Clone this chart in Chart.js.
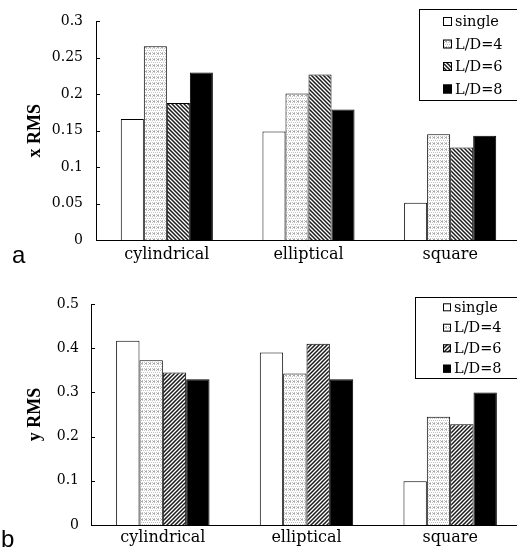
<!DOCTYPE html>
<html><head><meta charset="utf-8">
<script src="https://cdn.jsdelivr.net/npm/chart.js@4.4.0/dist/chart.umd.min.js"></script>
<style>
html,body{margin:0;padding:0;background:#fff;overflow:hidden;width:517px;height:559px;}
#wrap{position:relative;width:517px;height:559px;overflow:hidden;}
canvas{position:absolute;left:0;}
#ca{top:0}
#cb{top:280px}
.lab{position:absolute;font-family:"Liberation Sans",Arial,sans-serif;font-size:24px;line-height:normal;color:#000;}
</style></head><body>
<div id="wrap">
<canvas id="ca" width="521" height="280"></canvas>
<canvas id="cb" width="522" height="279"></canvas>
<div class="lab" style="left:12px;top:241px">a</div>
<div class="lab" style="left:1px;top:525px">b</div>
</div>
<script>
// ---- data ----
const categories = ['cylindrical', 'elliptical', 'square'];
const seriesNames = ['single', 'L/D=4', 'L/D=6', 'L/D=8'];

// (a) x RMS
const xSingle = [0.166, 0.149, 0.051];
const xLD4    = [0.266, 0.201, 0.145];
const xLD6    = [0.188, 0.227, 0.127];
const xLD8    = [0.230, 0.179, 0.143];
const xTicks  = [0, 0.05, 0.1, 0.15, 0.2, 0.25, 0.3];

// (b) y RMS
const ySingle = [0.417, 0.390, 0.099];
const yLD4    = [0.373, 0.343, 0.245];
const yLD6    = [0.345, 0.410, 0.228];
const yLD8    = [0.330, 0.330, 0.300];
const yTicks  = [0, 0.1, 0.2, 0.3, 0.4, 0.5];

// ---- patterns ----
function stipple() {
  const c = document.createElement('canvas'); c.width = 4; c.height = 6;
  const g = c.getContext('2d');
  g.fillStyle = '#fff'; g.fillRect(0, 0, 4, 6);
  g.fillStyle = '#c4c4c4';
  [[0,0],[2,0],[1,2],[3,2],[0,4],[2,4]].forEach(p => g.fillRect(p[0], p[1], 1, 1));
  g.fillStyle = '#a8a8a8';
  g.fillRect(1, 5, 2, 1);
  return g.createPattern(c, 'repeat');
}
function hatch(dir) {
  const s = 4;
  const c = document.createElement('canvas'); c.width = s; c.height = s;
  const g = c.getContext('2d');
  g.fillStyle = '#fff'; g.fillRect(0, 0, s, s);
  g.strokeStyle = '#1a1a1a'; g.lineWidth = 1.5;
  g.beginPath();
  if (dir === 'back') {
    g.moveTo(-1, -1); g.lineTo(s + 1, s + 1);
    g.moveTo(-1, s - 1); g.lineTo(1, s + 1);
    g.moveTo(s - 1, -1); g.lineTo(s + 1, 1);
  } else {
    g.moveTo(-1, s + 1); g.lineTo(s + 1, -1);
    g.moveTo(-1, 1); g.lineTo(1, -1);
    g.moveTo(s - 1, s + 1); g.lineTo(s + 1, s - 1);
  }
  g.stroke();
  return g.createPattern(c, 'repeat');
}

const serifTick = '"DejaVu Serif", "Liberation Serif", serif';
const titleFont = '"Liberation Serif", "Times New Roman", serif';

const inwardTicks = {
  id: 'inwardTicks',
  afterDraw(chart) {
    const ys = chart.scales.y, ctx = chart.ctx, L = chart.chartArea.left;
    ctx.save(); ctx.strokeStyle = '#000'; ctx.lineWidth = 1;
    ys.ticks.forEach(t => {
      const y = Math.round(ys.getPixelForValue(t.value)) + 0.5;
      ctx.beginPath(); ctx.moveTo(L, y); ctx.lineTo(L + 4, y); ctx.stroke();
    });
    ctx.restore();
  }
};

const boxLegend = {
  id: 'boxLegend',
  afterDraw(chart, args, o) {
    const ctx = chart.ctx;
    ctx.save();
    ctx.fillStyle = '#fff';
    ctx.fillRect(o.x, o.y, o.w, o.h);
    ctx.strokeStyle = '#000'; ctx.lineWidth = 1;
    ctx.strokeRect(o.x + 0.5, o.y + 0.5, o.w, o.h);
    ctx.font = o.font; ctx.textBaseline = 'middle'; ctx.textAlign = 'left';
    chart.data.datasets.forEach((ds, i) => {
      const cy = o.rows[i];
      const m = o.mark;
      ctx.fillStyle = ds.backgroundColor;
      ctx.fillRect(o.mx, cy - m / 2, m, m);
      ctx.strokeStyle = '#000';
      ctx.strokeRect(o.mx + 0.5, cy - m / 2 + 0.5, m - 1, m - 1);
      ctx.fillStyle = '#000';
      ctx.fillText(ds.label, o.tx, cy + 1);
    });
    ctx.restore();
  }
};

function makeChart(id, vals, ticks, maxV, title, hatchDir, lay, legendOpts) {
  const fills = ['#ffffff', stipple(), hatch(hatchDir), '#000000'];
  return new Chart(document.getElementById(id), {
    type: 'bar',
    data: {
      labels: categories,
      datasets: seriesNames.map((n, i) => ({
        label: n, data: vals[i], backgroundColor: fills[i],
        borderColor: '#000', borderWidth: 1,
        categoryPercentage: 0.65, barPercentage: 1.0
      }))
    },
    options: {
      responsive: false, animation: false,
      layout: { padding: { left: 0, right: 0, top: lay.top, bottom: 0 } },
      plugins: { legend: { display: false }, tooltip: { enabled: false }, boxLegend: legendOpts },
      scales: {
        x: {
          grid: { display: false, drawTicks: false },
          border: { display: true, color: '#000', width: 1 },
          ticks: { color: '#000', font: { family: serifTick, size: 16 }, padding: lay.xpad, maxRotation: 0 },
          afterFit: s => { s.height = lay.xh; }
        },
        y: {
          min: 0, max: maxV,
          afterBuildTicks: s => { s.ticks = ticks.map(v => ({ value: v })); },
          grid: { display: false, drawTicks: false },
          border: { display: true, color: '#000', width: 1 },
          ticks: { color: '#000', font: { family: serifTick, size: 14 }, padding: lay.ypad,
                   callback: v => String(+v.toFixed(2)) },
          title: { display: true, text: title, color: '#000',
                   font: { family: titleFont, size: 18, weight: 'bold' },
                   padding: { top: 25, bottom: 0 } },
          afterFit: s => { s.width = lay.yw; }
        }
      }
    },
    plugins: [inwardTicks, boxLegend]
  });
}

makeChart('ca', [xSingle, xLD4, xLD6, xLD8], xTicks, 0.3, 'x RMS', 'back',
  { top: 16, xh: 40, yw: 96, xpad: 5, ypad: 13 },
  { x: 419, y: 9, w: 110, h: 91, rows: [21.5, 44, 66.5, 89], mx: 443, mark: 9, tx: 455,
    font: '14.5px ' + serifTick });

makeChart('cb', [ySingle, yLD4, yLD6, yLD8], yTicks, 0.5, 'y RMS', 'fwd',
  { top: 24, xh: 34, yw: 91, xpad: 3, ypad: 12 },
  { x: 415, y: 17, w: 110, h: 81, rows: [27.3, 47.7, 68.3, 88.7], mx: 443, mark: 8, tx: 454,
    font: '14.5px ' + serifTick });
</script>
</body></html>
